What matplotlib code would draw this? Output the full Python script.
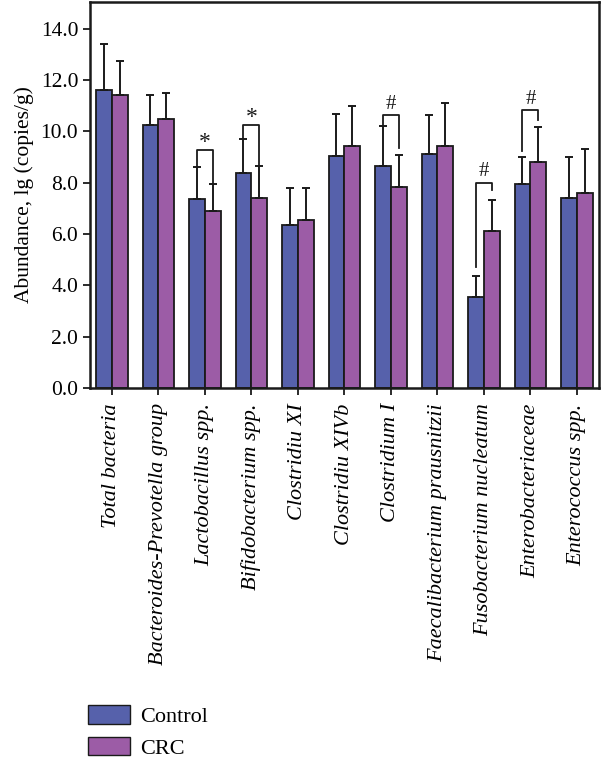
import numpy as np
import matplotlib
matplotlib.use("Agg")
import matplotlib.pyplot as plt
from matplotlib.patches import Patch

categories = ['Total bacteria', 'Bacteroides-Prevotella group', 'Lactobacillus spp.',
              'Bifidobacterium spp.', 'Clostridiu XI', 'Clostridiu XIVb', 'Clostridium I',
              'Faecalibacterium prausnitzii', 'Fusobacterium nucleatum',
              'Enterobacteriaceae', 'Enterococcus spp.']
control_mean = [11.59, 10.24, 7.35, 8.36, 6.36, 9.04, 8.64, 9.11, 3.53, 7.96, 7.40]
control_top = [13.38, 11.40, 8.62, 9.68, 7.78, 10.67, 10.20, 10.65, 4.38, 8.98, 8.98]
crc_mean = [11.40, 10.48, 6.90, 7.39, 6.55, 9.44, 7.84, 9.44, 6.11, 8.81, 7.60]
crc_top = [12.74, 11.47, 7.96, 8.64, 7.78, 11.00, 9.09, 11.10, 7.34, 10.16, 9.29]

# significance brackets: group, bracket height, left leg end, right leg end, mark
sig_group = [2, 3, 6, 8, 9]
sig_height = [9.26, 10.26, 10.62, 8.00, 10.81]
sig_left = [8.62, 9.68, 10.20, 4.70, 9.22]
sig_right = [7.96, 8.64, 9.35, 7.70, 10.45]
sig_mark = ['*', '*', '#', '#', '#']

yticks = np.arange(0, 15, 2)

c_control = '#5661ab'
c_crc = '#9c5ca6'

plt.rcParams['font.family'] = ['Liberation Serif', 'DejaVu Serif']

fig = plt.figure(figsize=(6.02, 7.76), dpi=100)
ax = fig.add_axes([0.1495, 0.5, 0.845, 0.498])

x = np.arange(len(categories))
w = 0.34
ctrl = np.array(control_mean)
crc = np.array(crc_mean)
ax.bar(x - w / 2, ctrl, width=w, color=c_control, edgecolor='#1a1a1a', linewidth=1.3,
       yerr=[np.zeros_like(ctrl), np.array(control_top) - ctrl],
       error_kw=dict(ecolor='#1a1a1a', elinewidth=1.4, capsize=3, capthick=1.4), zorder=2)
ax.bar(x + w / 2, crc, width=w, color=c_crc, edgecolor='#1a1a1a', linewidth=1.3,
       yerr=[np.zeros_like(crc), np.array(crc_top) - crc],
       error_kw=dict(ecolor='#1a1a1a', elinewidth=1.4, capsize=3, capthick=1.4), zorder=2)

for g, h, l, r, m in zip(sig_group, sig_height, sig_left, sig_right, sig_mark):
    xl, xr = g - w / 2, g + w / 2
    ax.plot([xl, xl, xr, xr], [l, h, h, r], color='#1a1a1a', lw=1.3, zorder=3)
    if m == '*':
        ax.text(g, h - 0.12, m, ha='center', va='bottom', fontsize=17, color='#1a1a1a')
    else:
        ax.text(g, h + 0.06, m, ha='center', va='bottom', fontsize=15, color='#1a1a1a')

ax.set_xlim(-0.47, len(categories) - 0.53)
ax.set_ylim(0, 15.05)
ax.set_yticks(yticks)
ax.set_yticklabels([f'{v:.1f}' for v in yticks], fontsize=15.5)
ax.set_xticks(x)
ax.set_xticklabels(categories, rotation=90, fontsize=16, style='italic')
ax.tick_params(axis='both', direction='out', length=5, width=1.3, color='#1a1a1a')
ax.tick_params(axis='x', pad=6)
for s in ax.spines.values():
    s.set_linewidth(1.8)
    s.set_color('#1a1a1a')
ax.set_ylabel('Abundance, lg (copies/g)', fontsize=15.5, labelpad=5)

handles = [Patch(facecolor=c_control, edgecolor='#1a1a1a', label='Control'),
           Patch(facecolor=c_crc, edgecolor='#1a1a1a', label='CRC')]
fig.legend(handles=handles, loc='lower left', bbox_to_anchor=(0.146, 0.022), frameon=False,
           fontsize=16, handlelength=1.9, handleheight=0.9, labelspacing=0.45,
           handletextpad=0.45, borderpad=0, borderaxespad=0)

fig.savefig('out.png', dpi=100)
